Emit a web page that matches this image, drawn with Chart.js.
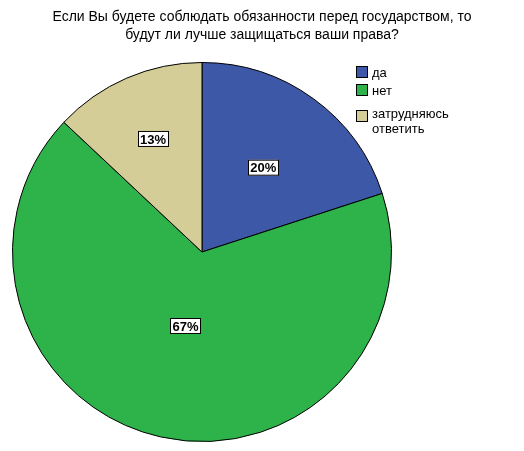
<!DOCTYPE html><html><head><meta charset="utf-8">
<script src="https://cdn.jsdelivr.net/npm/chart.js@4"></script>
<style>body{margin:0;background:#fff}canvas{display:block}</style></head><body>
<canvas id="c" width="524" height="451"></canvas>
<script>
const categories=["да","нет","затрудняюсь ответить"];
const values=[20,67,13];
const colors=["#3e58a8","#2eb34b","#d5cd98"];
const titleLines=["Если Вы будете соблюдать обязанности перед государством, то","будут ли лучше защищаться ваши права?"];
const font='"Liberation Sans", Arial, sans-serif';
const overlay={id:'overlay',afterDraw(ch){
 const c=ch.ctx;c.save();
 c.fillStyle='#000';c.textAlign='center';c.textBaseline='middle';
 c.font='14px '+font;
 c.fillText(titleLines[0],262,17);c.fillText(titleLines[1],262,35);
 // legend
 const ly=[72,90,116];
 c.textAlign='left';c.font='13px '+font;
 categories.forEach((n,i)=>{
  c.fillStyle=colors[i];c.fillRect(356,ly[i]-6,12,12);
  c.strokeStyle='#000';c.lineWidth=1;c.strokeRect(356.5,ly[i]-5.5,11,11);
  c.fillStyle='#000';
  if(i==2){c.fillText("затрудняюсь",372,ly[i]-2);c.fillText("ответить",372,ly[i]+13);}
  else c.fillText(n,372,ly[i]+1);
 });
 // labels
 const meta=ch.getDatasetMeta(0);
 c.font='bold 13px '+font;c.textAlign='center';
 meta.data.forEach((a,i)=>{
  const f=[0.55,0.4,0.65][i];
  const mid=(a.startAngle+a.endAngle)/2;
  const x=a.x+Math.cos(mid)*a.outerRadius*f, y=a.y+Math.sin(mid)*a.outerRadius*f;
  const t=values[i]+'%';const w=c.measureText(t).width+4;
  c.fillStyle='#fff';c.fillRect(x-w/2,y-8,w,16);
  c.strokeStyle='#000';c.strokeRect(Math.round(x-w/2)+.5,y-7.5,Math.round(w),15);
  c.fillStyle='#000';c.fillText(t,x,y+1);
 });
 c.restore();}};
new Chart(document.getElementById('c'),{type:'pie',
 data:{labels:categories,datasets:[{data:values,backgroundColor:colors,borderColor:'#000',borderWidth:1}]},
 options:{responsive:false,animation:false,layout:{padding:{left:12,right:132,top:62,bottom:9}},
  plugins:{legend:{display:false},tooltip:{enabled:false}}},
 plugins:[overlay]});
</script></body></html>
